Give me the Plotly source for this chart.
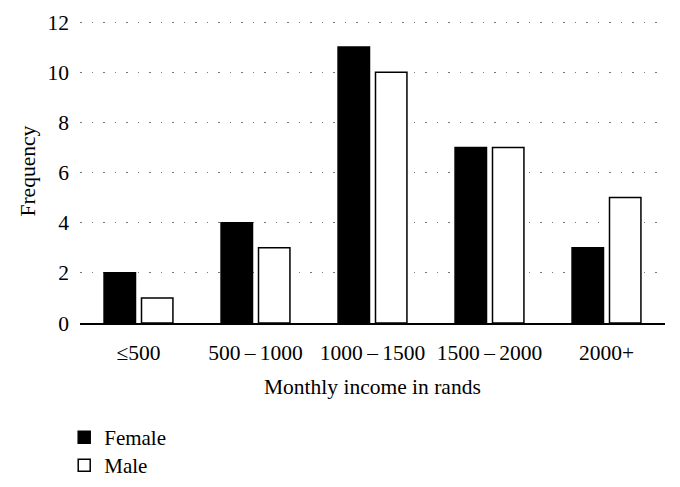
import plotly.graph_objects as go

categories = ["≤500", "500\u2009–\u20091000", "1000\u2009–\u20091500", "1500\u2009–\u20092000", "2000+"]
female = [2, 4, 11, 7, 3]
male = [1, 3, 10, 7, 5]
y_ticks = [0, 2, 4, 6, 8, 10, 12]

FONT = "Liberation Serif"
FS = 21.5

fig = go.Figure()
fig.add_trace(go.Bar(x=categories, y=female, name="Female", legend="legend",
                     marker=dict(color="black", line=dict(color="black", width=1.5))))
fig.add_trace(go.Bar(x=categories, y=male, name="Male", legend="legend2",
                     marker=dict(color="white", line=dict(color="black", width=1.5))))

legend_common = dict(xref="paper", yref="container", x=-0.027,
                     xanchor="left", yanchor="top",
                     font=dict(size=21, family=FONT),
                     itemwidth=30, bgcolor="rgba(0,0,0,0)")

fig.update_layout(
    width=680, height=487,
    margin=dict(l=80, r=15, t=20, b=164),
    plot_bgcolor="white", paper_bgcolor="white",
    barmode="group", bargap=0.36, bargroupgap=0.16,
    font=dict(family=FONT, size=FS, color="black"),
    showlegend=True,
    legend=dict(y=(487 - 417) / 487, **legend_common),
    legend2=dict(y=(487 - 445) / 487, **legend_common),
    xaxis=dict(showline=True, linecolor="black", linewidth=1.5, ticks="",
               tickangle=0, ticklabelstandoff=9, showgrid=False, automargin=False),
    yaxis=dict(range=[0, 12.08], tickvals=y_ticks, showline=False, ticks="",
               showgrid=True, gridcolor="#777777", griddash="1.5px,10px", gridwidth=1.2,
               zeroline=False, ticklabelstandoff=10, automargin=False),
    annotations=[
        dict(text="Monthly income in rands", xref="paper", yref="paper",
             x=0.5, y=(323 - 387) / 303, xanchor="center", yanchor="middle",
             showarrow=False, font=dict(size=FS, family=FONT)),
        dict(text="Frequency", xref="paper", yref="paper",
             x=(27 - 80) / 585, y=0.5, xanchor="center", yanchor="middle",
             textangle=-90, showarrow=False, font=dict(size=FS, family=FONT)),
    ],
)

fig.write_html("out.html", config={"displayModeBar": False},
               post_script="document.body.style.margin='0';document.body.style.overflow='hidden';")
